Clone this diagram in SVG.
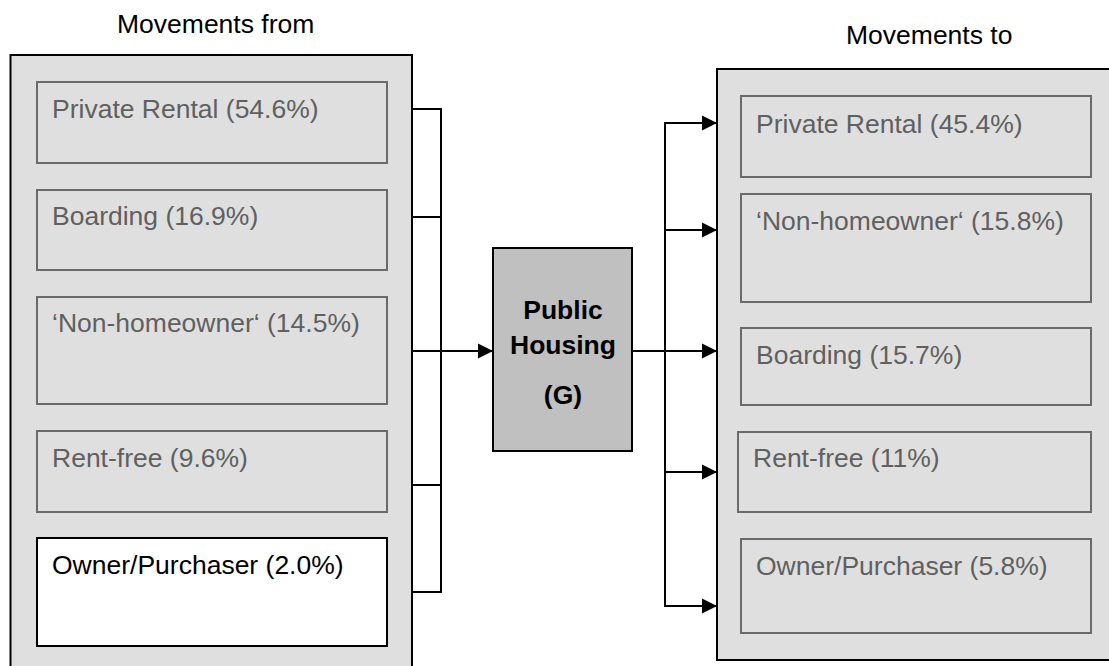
<svg xmlns="http://www.w3.org/2000/svg" width="1109" height="666" viewBox="0 0 1109 666">
<style>
text{font-family:"Liberation Sans",Arial,sans-serif;font-size:26.5px}
.title{fill:#000}
.outer{fill:#dfdfdf;stroke:#000;stroke-width:2}
.inner{fill:#dfdfdf;stroke:#6a6a6a;stroke-width:2}
.lbl{fill:#606060}
.white{fill:#fff;stroke:#000;stroke-width:2}
.hub{fill:#c0c0c0;stroke:#000;stroke-width:2}
.hubt{font-weight:bold;fill:#000;text-anchor:middle}
.line{stroke:#000;stroke-width:2;fill:none}
</style>
<defs>
<marker id="arr" markerWidth="16" markerHeight="16" refX="15" refY="8" orient="auto" markerUnits="userSpaceOnUse">
<path d="M0,0.5 L15,8 L0,15.5 Z" fill="#000"/>
</marker>
</defs>
<text class="title" x="117" y="33">Movements from</text>
<text class="title" x="846" y="44">Movements to</text>
<g id="from-group">
<rect class="outer" x="10.5" y="55" width="401.5" height="630"/>
</g>
<g id="from-private-rental"><rect class="inner" x="37" y="82" width="350" height="81"/><text class="lbl" x="52" y="118">Private Rental (54.6%)</text></g>
<g id="from-boarding"><rect class="inner" x="37" y="190" width="350" height="80"/><text class="lbl" x="52" y="225">Boarding (16.9%)</text></g>
<g id="from-non-homeowner"><rect class="inner" x="37" y="297" width="350" height="107"/><text class="lbl" x="52" y="332">‘Non-homeowner‘ (14.5%)</text></g>
<g id="from-rent-free"><rect class="inner" x="37" y="431" width="350" height="81"/><text class="lbl" x="52" y="467">Rent-free (9.6%)</text></g>
<g id="from-owner"><rect class="white" x="37" y="538" width="350" height="108"/><text class="title" x="52" y="574">Owner/Purchaser (2.0%)</text></g>
<g id="public-housing"><rect class="hub" x="493" y="248" width="139" height="203"/>
<text class="hubt" x="563" y="319">Public</text><text class="hubt" x="563" y="354">Housing</text><text class="hubt" x="563" y="404">(G)</text></g>
<g id="to-group">
<rect class="outer" x="717" y="69" width="420" height="591"/>
</g>
<g id="to-private-rental"><rect class="inner" x="741" y="96" width="350" height="81"/><text class="lbl" x="756" y="133">Private Rental (45.4%)</text></g>
<g id="to-non-homeowner"><rect class="inner" x="741" y="194" width="350" height="108"/><text class="lbl" x="756" y="230">‘Non-homeowner‘ (15.8%)</text></g>
<g id="to-boarding"><rect class="inner" x="741" y="328" width="350" height="77"/><text class="lbl" x="756" y="364">Boarding (15.7%)</text></g>
<g id="to-rent-free"><rect class="inner" x="738" y="432" width="353" height="80"/><text class="lbl" x="753" y="467">Rent-free (11%)</text></g>
<g id="to-owner"><rect class="inner" x="741" y="539" width="350" height="94"/><text class="lbl" x="756" y="575">Owner/Purchaser (5.8%)</text></g>
<g id="connectors">
<path class="line" d="M412,109 H441 M412,217 H441 M412,485 H441 M412,592 H441 M441,108 V593"/>
<path class="line" d="M412,351 H493" marker-end="url(#arr)"/>
<path class="line" d="M665,122 V607"/>
<path class="line" d="M665,123 H717" marker-end="url(#arr)"/>
<path class="line" d="M665,230 H717" marker-end="url(#arr)"/>
<path class="line" d="M632,351 H717" marker-end="url(#arr)"/>
<path class="line" d="M665,472 H717" marker-end="url(#arr)"/>
<path class="line" d="M665,606 H717" marker-end="url(#arr)"/>
</g>
</svg>
